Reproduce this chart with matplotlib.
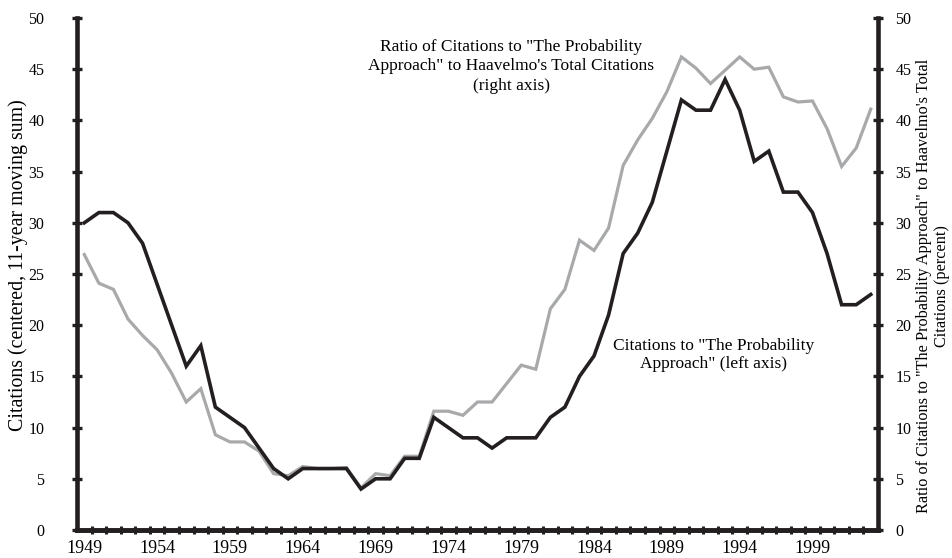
import matplotlib
matplotlib.use('Agg')
import matplotlib.pyplot as plt
import numpy as np

plt.rcParams.update({'font.family': ['Liberation Serif', 'DejaVu Serif'], 'font.size': 11})

years = np.arange(1949, 2004)

# citations to "The Probability Approach" (left axis)
citations = [30, 31, 31, 30, 28, 24, 20, 16, 18, 12,
             11, 10, 8, 6, 5, 6, 6, 6, 6, 4,
             5, 5, 7, 7, 11, 10, 9, 9, 8, 9,
             9, 9, 11, 12, 15, 17, 21, 27, 29, 32,
             37, 42, 41, 41, 44, 41, 36, 37, 33, 33,
             31, 27, 22, 22, 23]

# ratio to Haavelmo's total citations, percent (right axis)
ratio = [26.9, 24.1, 23.5, 20.6, 19.0, 17.6, 15.3, 12.5, 13.8, 9.3,
         8.6, 8.6, 7.7, 5.5, 5.3, 6.2, 6.0, 6.0, 6.1, 4.1,
         5.5, 5.3, 7.2, 7.2, 11.6, 11.6, 11.2, 12.5, 12.5, 14.3,
         16.1, 15.7, 21.6, 23.5, 28.3, 27.3, 29.5, 35.6, 38.1, 40.2,
         42.8, 46.2, 45.1, 43.6, 44.9, 46.2, 45.0, 45.2, 42.3, 41.8,
         41.9, 39.2, 35.5, 37.3, 41.1]

label_years = np.arange(1949, 2000, 5)
yticks = np.arange(0, 51, 5)

fig = plt.figure(figsize=(9.52, 5.58), dpi=100)
ax = fig.add_axes([0.0809, 0.0502, 0.8414, 0.9175])
ax2 = ax.twinx()

ax2.plot(years, ratio, color='#a8a9ab', lw=2.3, solid_joinstyle='miter')
ax.plot(years, citations, color='#231f20', lw=2.6, solid_joinstyle='miter')
ax.set_zorder(ax2.get_zorder() + 1)
ax.patch.set_visible(False)

for a in (ax, ax2):
    a.set_xlim(1948.5, 2003.5)
    a.set_ylim(0, 50)
    a.set_yticks(yticks)
    a.spines['top'].set_visible(False)
    for s in ('left', 'right', 'bottom'):
        a.spines[s].set_linewidth(3.3)
        a.spines[s].set_color('#231f20')

ax.spines['right'].set_visible(False)
ax2.spines['left'].set_visible(False)

ax.set_xticks(label_years)
ax.set_xticks(np.arange(1949.5, 2003, 1), minor=True)
ax.tick_params(axis='x', which='major', length=0, pad=7, labelsize=13)
ax.tick_params(axis='x', which='minor', direction='inout', length=6, width=2.2, color='#231f20')
ax.tick_params(axis='y', direction='inout', length=7, width=2.4, color='#231f20', pad=20, labelsize=11.5)
ax2.tick_params(axis='y', direction='inout', length=7, width=2.4, color='#231f20', pad=9, labelsize=11.5)

fig.text(18 / 952, 1 - 265 / 558, 'Citations (centered, 11-year moving sum)',
         rotation=90, rotation_mode='anchor', ha='center', va='center', fontsize=14.3)
fig.text(933 / 952, 1 - 286 / 558,
         'Ratio of Citations to "The Probability Approach" to Haavelmo\'s Total\nCitations (percent)',
         rotation=90, rotation_mode='anchor', ha='center', va='center', fontsize=11.7,
         linespacing=1.15)

ax.text(1978.3, 45.3, 'Ratio of Citations to "The Probability\nApproach" to Haavelmo\'s Total Citations\n(right axis)',
        ha='center', va='center', fontsize=12.5, linespacing=1.3)
ax.text(1992.2, 17.1, 'Citations to "The Probability\nApproach" (left axis)',
        ha='center', va='center', fontsize=12.5, linespacing=1.15)

fig.savefig('out.png', dpi=100)
